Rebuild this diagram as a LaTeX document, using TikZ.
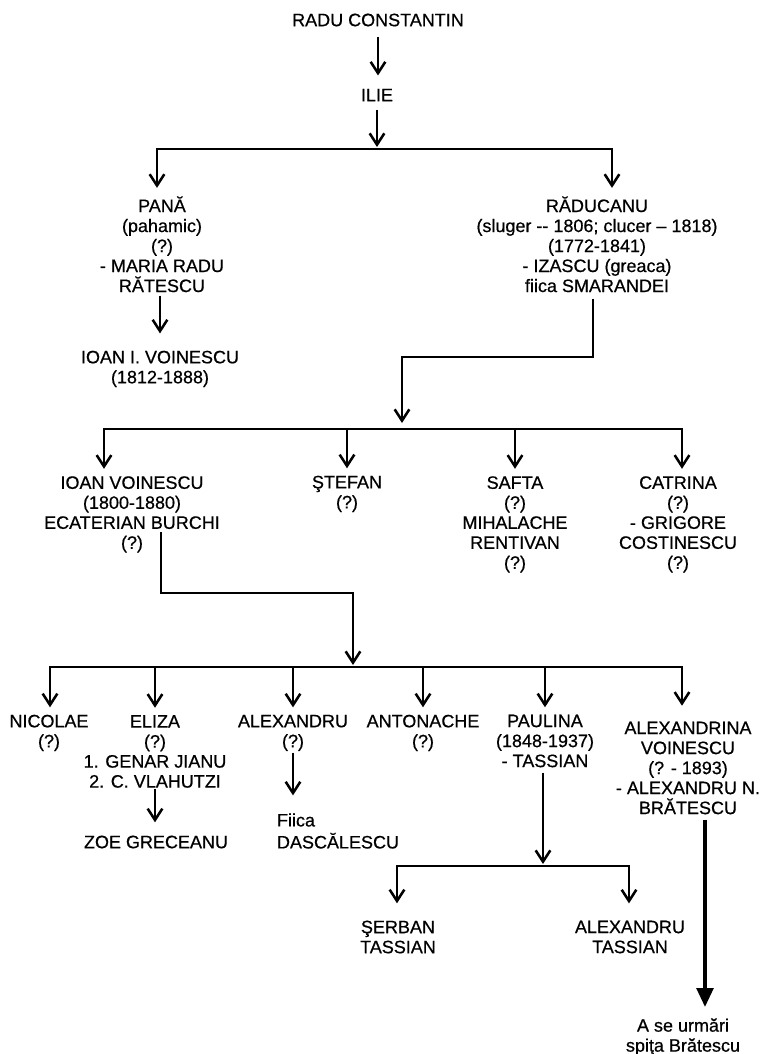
\documentclass[tikz,border=0pt]{standalone}
\usepackage{fontspec}
\setmainfont{Liberation Sans}[BoldFont={Liberation Sans},BoldFeatures={FakeBold=0.6}]
\usetikzlibrary{arrows.meta}

\begin{document}
\begin{tikzpicture}[x=0.75pt,y=0.75pt,yscale=-1,xscale=1,
    every node/.style={inner sep=0pt,outer sep=0pt,align=center,font=\fontsize{13.5}{15}\selectfont\bfseries},
    link/.style={line width=1.6pt},
    arr/.style={link,-{Straight Barb[length=8.5pt,width=11pt,line width=1.9pt]}},
    bigarr/.style={line width=2.3pt,-{Triangle[length=14pt,width=12.5pt]}}]
    %set diagram as large as the page
    \useasboundingbox (0,0) rectangle (764,1054);

    % Text Node
    \node (radu) at (378,20) {RADU CONSTANTIN};
    % Text Node
    \node (ilie) at (377,95) {ILIE};
    % Text Node
    \node (pana) at (162,244.3) {PANĂ\\(pahamic)\\(?)\\- MARIA RADU\\RĂTESCU};
    % Text Node
    \node (ioanI) at (160,368.9) {IOAN I. VOINESCU\\(1812-1888)};
    % Text Node
    \node (raducanu) at (597,244.3) {RĂDUCANU\\(sluger -{}- 1806; clucer – 1818)\\(1772-1841)\\- IZASCU (greaca)\\fiica SMARANDEI};
    % Text Node
    \node (ioanV) at (132,514.4) {IOAN VOINESCU\\(1800-1880)\\ECATERIAN BURCHI\\(?)};
    % Text Node
    \node (stefan) at (347,493.9) {ŞTEFAN\\(?)};
    % Text Node
    \node (safta) at (515,524.4) {SAFTA\\(?)\\MIHALACHE\\RENTIVAN\\(?)};
    % Text Node
    \node (catrina) at (678,524.4) {CATRINA\\(?)\\- GRIGORE\\COSTINESCU\\(?)};
    % Text Node
    \node (nicolae) at (49,732.9) {NICOLAE\\(?)};
    % Text Node
    \node (eliza) at (155,751.5) {ELIZA\\(?)\\1. GENAR JIANU\\2. C. VLAHUTZI};
    % Text Node
    \node (zoe) at (156,842) {ZOE GRECEANU};
    % Text Node
    \node (alexandru) at (293,732.9) {ALEXANDRU\\(?)};
    % Text Node
    \node (fiica) [anchor=west,align=left,font=\fontsize{13.5}{16.5}\selectfont\bfseries] at (277,831) {Fiica\\DASCĂLESCU};
    % Text Node
    \node (antonache) at (423,732.9) {ANTONACHE\\(?)};
    % Text Node
    \node (paulina) at (545,741) {PAULINA\\(1848-1937)\\- TASSIAN};
    % Text Node
    \node (alexandrina) at (688,768) {ALEXANDRINA\\VOINESCU\\(? - 1893)\\- ALEXANDRU N.\\BRĂTESCU};
    % Text Node
    \node (serban) at (398,937) {ŞERBAN\\TASSIAN};
    % Text Node
    \node (alexT) at (630,937) {ALEXANDRU\\TASSIAN};
    % Text Node
    \node (urmari) at (683,1036.9) {A se urmări\\spiţa Brătescu};

    %Junctions
    \coordinate (b1) at (377,149);
    \coordinate (b1L) at (157,149);
    \coordinate (b1R) at (612,149);
    \coordinate (j2) at (402,357);
    \coordinate (b2) at (402,429);
    \coordinate (b2L) at (104,429);
    \coordinate (b2R) at (682,429);
    \coordinate (c3) at (161,532);
    \coordinate (j3) at (353,593);
    \coordinate (b3) at (353,667);
    \coordinate (b3L) at (50,667);
    \coordinate (b3R) at (682,667);
    \coordinate (b4) at (543,866);
    \coordinate (b4L) at (397,866);
    \coordinate (b4R) at (629,866);
    \coordinate (bdrop) at ([xshift=12.75pt]alexandrina.south);

    %Connector: Radu Constantin, Ilie
    \draw[arr,shorten <=7.9pt,shorten >=10pt] (radu.south) -- (radu.south |- ilie.north);
    \draw[arr,shorten <=6.4pt,shorten >=1.5pt] (ilie.south) -- (b1);
    %Connector: Pana, Raducanu
    \draw[arr,shorten >=6.4pt] (b1) -| (b1L |- pana.north);
    \draw[arr,shorten >=6.4pt] (b1) -| (b1R |- raducanu.north);
    \draw[arr,shorten <=2.6pt,shorten >=13pt] (ioanI.north |- pana.south) -- (ioanI.north);
    %Connector: children of Raducanu
    \draw[arr,shorten <=4.9pt,shorten >=4.5pt] ([xshift=-3pt]raducanu.south) |- (j2) -- (b2);
    \draw[arr,shorten >=5.6pt] (b2) -| (b2L |- ioanV.north);
    \draw[arr,shorten >=5.6pt] (b2) -| (b2R |- catrina.north);
    \draw[arr,shorten >=5.6pt] (b2 -| stefan.north) -- (stefan.north);
    \draw[arr,shorten >=5.6pt] (b2 -| safta.north) -- (safta.north);
    %Connector: children of Ioan Voinescu
    \draw[arr,shorten >=1.5pt] (c3) |- (j3) -- (b3);
    \draw[arr,shorten >=5.6pt] (b3) -| (b3L |- nicolae.north);
    \draw[arr,shorten >=12pt] (b3) -| (b3R |- alexandrina.north);
    \draw[arr,shorten >=5.6pt] (b3 -| eliza.north) -- (eliza.north);
    \draw[arr,shorten >=5.6pt] (b3 -| alexandru.north) -- (alexandru.north);
    \draw[arr,shorten >=5.6pt] (b3 -| antonache.north) -- (antonache.north);
    \draw[arr,shorten >=5.6pt] (b3 -| paulina.north) -- (paulina.north);
    %Connector: grandchildren
    \draw[arr,shorten <=1.1pt,shorten >=10pt] (eliza.south) -- (eliza.south |- zoe.north);
    \draw[arr,shorten <=1.3pt,shorten >=13.5pt] (alexandru.south) -- (alexandru.south |- fiica.north);
    \draw[arr,shorten <=4pt,shorten >=1.5pt] (b4 |- paulina.south) -- (b4);
    \draw[arr,shorten >=13pt] (b4) -| (b4L |- serban.north);
    \draw[arr,shorten >=13pt] (b4) -| (b4R |- alexT.north);
    \draw[bigarr,shorten <=4pt,shorten >=8.6pt] (bdrop) -- (bdrop |- urmari.north);

\end{tikzpicture}
\end{document}
